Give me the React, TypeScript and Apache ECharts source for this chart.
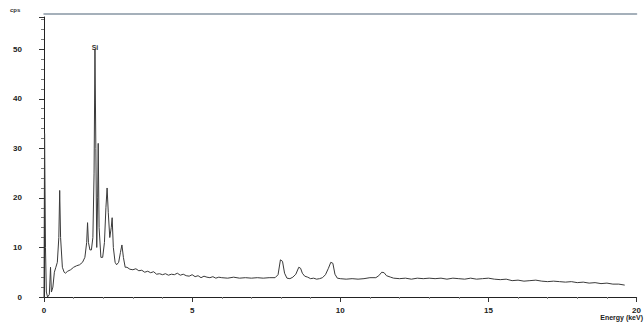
import React, { useEffect, useRef } from "react";
import * as echarts from "echarts";

// Energy (keV) and counts (cps)
const energy: number[] = [
  0.0, 0.02, 0.05, 0.08, 0.12, 0.18, 0.22, 0.25, 0.3, 0.35, 0.4, 0.45, 0.5, 0.53, 0.56, 0.62, 0.68, 0.72, 0.8, 0.9,
  1.0, 1.1, 1.2, 1.3, 1.38, 1.44, 1.47, 1.5, 1.55, 1.6, 1.65, 1.69, 1.72, 1.75, 1.78, 1.81, 1.83, 1.86, 1.92, 1.98,
  2.04, 2.09, 2.13, 2.17, 2.22, 2.27, 2.3, 2.34, 2.4, 2.45, 2.52, 2.58, 2.63, 2.68, 2.74, 2.8, 2.9,
  3.0, 3.1, 3.2, 3.3, 3.4, 3.5, 3.6, 3.7, 3.8, 3.9, 4.0, 4.1, 4.2, 4.3, 4.4, 4.5, 4.6, 4.7, 4.8, 4.9,
  5.0, 5.1, 5.2, 5.3, 5.4, 5.5, 5.6, 5.7, 5.8, 5.9, 6.0, 6.2, 6.4, 6.6, 6.8, 7.0, 7.2, 7.4, 7.6, 7.8,
  7.9, 7.98, 8.05, 8.12, 8.2, 8.3, 8.4, 8.5, 8.6, 8.66, 8.72, 8.8, 8.9, 9.0, 9.1, 9.2, 9.3, 9.4, 9.5, 9.6,
  9.68, 9.75, 9.82, 9.9, 10.0, 10.2, 10.4, 10.6, 10.8, 11.0, 11.2, 11.3, 11.4, 11.48, 11.56, 11.7, 11.8,
  12.0, 12.2, 12.4, 12.6, 12.8, 13.0, 13.2, 13.4, 13.6, 13.8, 14.0, 14.2, 14.4, 14.6, 14.8, 15.0, 15.2,
  15.4, 15.6, 15.8, 16.0, 16.2, 16.4, 16.6, 16.8, 17.0, 17.2, 17.4, 17.6, 17.8, 18.0, 18.2, 18.4, 18.6,
  18.8, 19.0, 19.2, 19.4, 19.6,
];

const counts: number[] = [
  0, 33, 10, 1, 0, 0.5, 6, 1, 2, 5, 6, 7, 12, 21.5, 12, 6, 5, 4.8, 5.2, 5.5,
  6, 6.3, 6.5, 7, 8, 11, 15, 11, 9.5, 9.5, 12, 25, 50, 30, 10, 20, 31, 14, 8, 8,
  11, 18, 22, 17, 12, 14, 16, 10, 7, 6.5, 7, 9, 10.5, 8, 6, 6, 5.6,
  5.5, 5.7, 5.3, 5.4, 5.0, 5.2, 4.9, 5.1, 4.6, 4.7, 4.5, 4.7, 4.4, 4.6, 4.5, 4.8, 4.4, 4.6, 4.3, 4.2,
  4.5, 4.1, 4.3, 3.9, 4.2, 4.0, 3.9, 4.1, 3.8, 4.0, 3.9, 3.8, 4.0, 3.8, 3.9, 3.8, 3.9, 3.8, 3.9, 3.9,
  4.5, 7.5, 7.2, 4.8, 3.8, 3.7, 4.0, 4.6, 6.0, 5.8, 4.8, 4.2, 4.0, 3.7, 3.8, 3.6, 3.7, 3.9, 4.5, 5.8,
  7.0, 6.8, 4.6, 3.8, 3.7, 3.6, 3.7, 3.6, 3.7, 3.9, 3.9, 4.3, 5.0, 4.9, 4.3, 4.0, 3.8,
  3.7, 3.8, 3.6, 3.8, 3.7, 3.8, 3.7, 3.8, 3.6, 3.8, 3.7, 3.6, 3.8, 3.6, 3.7, 3.8, 3.6,
  3.5, 3.6, 3.3, 3.4, 3.2, 3.3, 3.4, 3.2, 3.1, 3.2, 3.1, 3.0, 3.1, 2.9, 3.0, 2.8, 2.9,
  2.7, 2.8, 2.6, 2.6, 2.4,
];

const peakLabels: { name: string; energy: number; value: number }[] = [
  { name: "Si", energy: 1.72, value: 50 },
];

const yTickLabels: number[] = [0, 10, 20, 30, 40, 50];
const xTickLabels: number[] = [0, 5, 10, 15, 20];

export default function App() {
  const ref = useRef<HTMLDivElement>(null);

  useEffect(() => {
    if (!ref.current) return;
    const chart = echarts.init(ref.current, undefined, { renderer: "svg" });
    const font = "Liberation Sans";
    chart.setOption({
      animation: false,
      backgroundColor: "#ffffff",
      grid: { left: 44, right: 4, top: 17, bottom: 29, containLabel: false },
      xAxis: [
        {
          type: "value",
          min: xTickLabels[0],
          max: xTickLabels[xTickLabels.length - 1],
          interval: 5,
          axisLine: { show: true, lineStyle: { color: "#222", width: 1.2 } },
          axisTick: { show: true, length: 5, lineStyle: { color: "#333" } },
          minorTick: { show: true, splitNumber: 5, length: 2, lineStyle: { color: "#888" } },
          splitLine: { show: false },
          axisLabel: {
            margin: 9,
            fontSize: 8,
            fontWeight: "bold",
            color: "#222",
            fontFamily: font,
          },
        },
        {
          type: "value",
          position: "top",
          offset: 3,
          min: 0,
          max: 20,
          axisLine: { show: true, lineStyle: { color: "#8896a4", width: 1.5 } },
          axisTick: { show: false },
          axisLabel: { show: false },
          splitLine: { show: false },
        },
      ],
      yAxis: {
        type: "value",
        min: yTickLabels[0],
        max: 56.5,
        interval: 10,
        offset: 6,
        axisLine: { show: true, lineStyle: { color: "#222", width: 1 } },
        axisTick: { show: true, length: 5, lineStyle: { color: "#333" } },
        minorTick: { show: true, splitNumber: 5, length: 3, lineStyle: { color: "#777" } },
        splitLine: { show: false },
        axisLabel: {
          margin: 16,
          fontSize: 8,
          fontWeight: "bold",
          color: "#222",
          fontFamily: font,
          showMaxLabel: false,
        },
      },
      series: [
        {
          type: "line",
          xAxisIndex: 0,
          data: energy.map((e, i) => [e, counts[i]]),
          showSymbol: false,
          symbol: "none",
          lineStyle: { color: "#3a3a3a", width: 1 },
          markPoint: {
            symbol: "circle",
            symbolSize: 0,
            label: {
              show: true,
              formatter: (p: any) => p.name,
              fontSize: 7,
              fontWeight: "bold",
              color: "#333",
              fontFamily: font,
              offset: [0, -2],
            },
            data: peakLabels.map((p) => ({ name: p.name, coord: [p.energy, p.value] })),
          },
        },
      ],
      graphic: [
        {
          type: "text",
          left: 10,
          top: 7,
          style: { text: "cps", fontSize: 6, fontWeight: "bold", fill: "#333", fontFamily: font },
        },
        {
          type: "text",
          right: 1,
          top: 314,
          style: { text: "Energy (keV)", fontSize: 7, fontWeight: "bold", fill: "#222", fontFamily: font },
        },
      ],
    });
    return () => chart.dispose();
  }, []);

  return <div ref={ref} style={{ width: 644, height: 326, position: "absolute", left: 0, top: 0 }} />;
}
